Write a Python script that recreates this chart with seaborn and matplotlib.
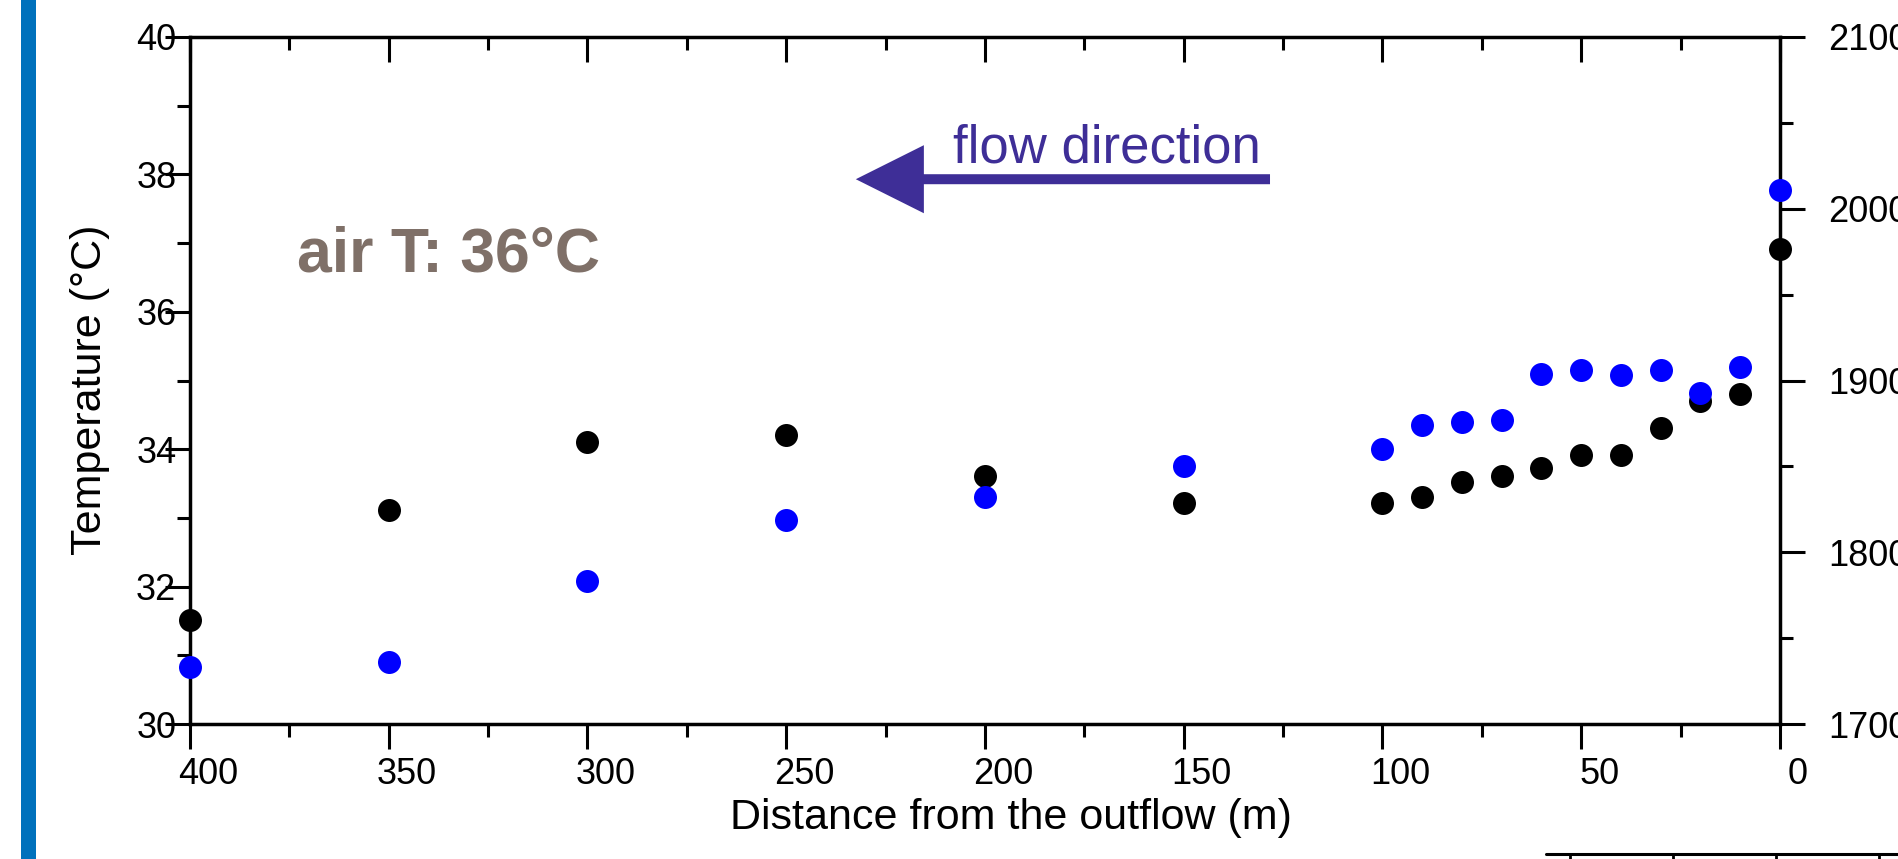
import matplotlib
matplotlib.use("Agg")
import matplotlib.pyplot as plt
from matplotlib.ticker import FixedLocator, MultipleLocator
from matplotlib.transforms import ScaledTranslation
from matplotlib.patches import Rectangle
from matplotlib.lines import Line2D
import seaborn as sns

# ---- data -------------------------------------------------------------
distance = [400, 350, 300, 250, 200, 150, 100, 90, 80, 70, 60, 50, 40, 30, 20, 10, 0]
temperature = [31.51, 33.11, 34.11, 34.21, 33.61, 33.22, 33.22, 33.31, 33.52,
               33.61, 33.72, 33.91, 33.91, 34.31, 34.70, 34.81, 36.91]
secondary = [1733, 1736, 1783, 1819, 1832, 1850, 1860, 1874, 1876,
             1877, 1904, 1906, 1903, 1906, 1893, 1908, 2011]

x_ticks = [400, 350, 300, 250, 200, 150, 100, 50, 0]
temp_ticks = [30, 32, 34, 36, 38, 40]
secondary_ticks = [1700, 1800, 1900, 2000, 2100]

x_label = "Distance from the outflow (m)"
y_label = "Temperature (°C)"
air_label = "air T: 36°C"
flow_label = "flow direction"

# ---- style ------------------------------------------------------------
sns.set_style("white")
plt.rcParams["font.family"] = ["Liberation Sans", "DejaVu Sans"]
plt.rcParams["text.color"] = "black"
plt.rcParams["axes.labelcolor"] = "black"
plt.rcParams["xtick.color"] = "black"
plt.rcParams["ytick.color"] = "black"

W, H = 1899, 859
fig = plt.figure(figsize=(W / 100, H / 100), dpi=100)
fig.patch.set_facecolor("white")
ax = fig.add_axes([190 / W, 1 - 724 / H, 1590 / W, 687 / H])
ax2 = ax.twinx()

SPINE_W = 2.5
TICK_W = 2.2
MAJ, MIN = 18.0, 9.2

# ---- points -----------------------------------------------------------
sns.scatterplot(x=distance, y=temperature, ax=ax, color="black", s=274,
                linewidth=0, clip_on=False, zorder=3)
sns.scatterplot(x=distance, y=secondary, ax=ax2, color="#0000ff", s=274,
                linewidth=0, clip_on=False, zorder=3)

# ---- axes limits and ticks -------------------------------------------
ax.set_xlim(400, 0)
ax.set_ylim(30, 40)
ax2.set_ylim(1700, 2100)

ax.xaxis.set_major_locator(FixedLocator(x_ticks))
ax.xaxis.set_minor_locator(MultipleLocator(25))
ax.yaxis.set_major_locator(FixedLocator(temp_ticks))
ax.yaxis.set_minor_locator(MultipleLocator(1))
ax2.yaxis.set_major_locator(FixedLocator(secondary_ticks))
ax2.yaxis.set_minor_locator(MultipleLocator(50))

for sp in ax.spines.values():
    sp.set_linewidth(SPINE_W)
    sp.set_color("black")
for sp in ax2.spines.values():
    sp.set_visible(False)

ax.tick_params(axis="x", which="major", direction="out", length=MAJ,
               width=TICK_W, pad=6.0, labelsize=26, bottom=True, top=False)
ax.tick_params(axis="x", which="minor", direction="out", length=MIN,
               width=TICK_W, bottom=True, top=False)
ax.tick_params(axis="y", which="major", direction="out", length=MAJ,
               width=TICK_W, pad=-8.2, labelsize=26, left=True, right=False)
ax.tick_params(axis="y", which="minor", direction="out", length=MIN,
               width=TICK_W, left=True, right=False)

# inward ticks along the top edge
ax2.xaxis.set_visible(True)
ax2.tick_params(axis="x", which="major", direction="in", length=MAJ,
                width=TICK_W, bottom=False, top=True,
                labelbottom=False, labeltop=False)
ax2.tick_params(axis="x", which="minor", direction="in", length=MIN,
                width=TICK_W, bottom=False, top=True)

ax2.tick_params(axis="y", which="major", direction="out", length=MAJ,
                width=TICK_W, pad=17, labelsize=26, left=False, right=True)
ax2.tick_params(axis="y", which="minor", direction="out", length=MIN,
                width=TICK_W, left=False, right=True)

ax.set_xticklabels([str(v) for v in x_ticks])
ax.set_yticklabels([str(v) for v in temp_ticks])
ax2.set_yticklabels([str(v) for v in secondary_ticks])

# distance labels sit slightly right of their ticks
shift = ScaledTranslation(0.18, 0, fig.dpi_scale_trans)
for lbl in ax.get_xticklabels():
    lbl.set_transform(lbl.get_transform() + shift)

# ---- labels -----------------------------------------------------------
ax.set_xlabel(x_label, fontsize=31)
ax.xaxis.set_label_coords(0.516, -0.108)
ax.set_ylabel(y_label, fontsize=31)
ax.yaxis.set_label_coords(-0.0505, 0.486)
ax2.set_ylabel("")

# ---- annotations ------------------------------------------------------
ax.text(373, 36.58, air_label, fontsize=45, fontweight="bold",
        color="#7f7068", ha="left", va="baseline")

flow_color = "#3e2e97"
ax.text(208.1, 38.18, flow_label, fontsize=38, color=flow_color,
        ha="left", va="baseline")
ax.annotate("", xy=(232.5, 37.93), xytext=(128.3, 37.93),
            arrowprops=dict(width=7.2, headwidth=49, headlength=49,
                            facecolor=flow_color, edgecolor=flow_color,
                            lw=0, shrink=0))

# ---- page decorations -------------------------------------------------
fig.patches.append(Rectangle((21 / W, 0), 15 / W, 1, transform=fig.transFigure,
                             facecolor="#0071bc", edgecolor="none"))
fig.add_artist(Line2D([1546 / W, 1.0], [1 - 854 / H, 1 - 854 / H],
                      transform=fig.transFigure, color="black", lw=2.2))
for xp in [1570, 1673, 1776, 1879]:
    fig.add_artist(Line2D([xp / W, xp / W], [1 - 854 / H, 0],
                          transform=fig.transFigure, color="black", lw=2.0))

fig.savefig("out.png", dpi=100, facecolor="white")
